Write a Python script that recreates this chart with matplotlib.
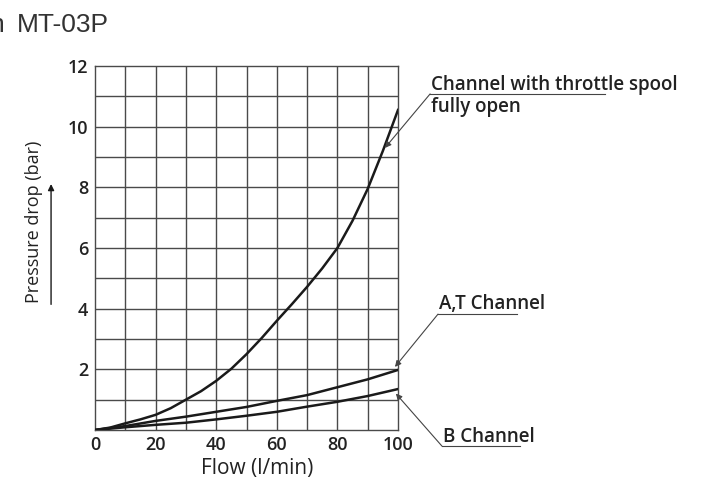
import numpy as np
import matplotlib.pyplot as plt

# flow (l/min) and pressure drop (bar)
flow = [0, 5, 10, 15, 20, 25, 30, 35, 40, 45, 50, 55, 60, 65, 70, 75, 80, 85, 90, 95, 100]
dp_throttle = [0, 0.08, 0.22, 0.35, 0.5, 0.72, 1.0, 1.28, 1.62, 2.02, 2.5, 3.03,
               3.6, 4.15, 4.72, 5.33, 6.0, 6.9, 7.95, 9.2, 10.55]

flow_lo = [0, 10, 20, 30, 40, 50, 60, 70, 80, 90, 100]
dp_at = [0, 0.13, 0.3, 0.44, 0.6, 0.76, 0.96, 1.15, 1.41, 1.67, 1.98]
dp_b = [0, 0.09, 0.17, 0.24, 0.35, 0.47, 0.6, 0.77, 0.93, 1.12, 1.35]

x_ticks = [0, 20, 40, 60, 80, 100]
y_ticks = [2, 4, 6, 8, 10, 12]

GRID = "#4a4a4a"
INK = "#1a1a1a"
FONT = ["Open Sans", "DejaVu Sans"]

fig = plt.figure(figsize=(7.05, 4.87), dpi=100)
ax = fig.add_axes([95 / 705, 1 - 430 / 487, 303 / 705, 364 / 487])

ax.set_xlim(0, 100)
ax.set_ylim(0, 12)
for v in range(10, 100, 10):
    ax.axvline(v, color=GRID, lw=1.0, zorder=1)
for v in range(1, 12):
    ax.axhline(v, color=GRID, lw=1.0, zorder=1)
for s in ax.spines.values():
    s.set_color(GRID)
    s.set_linewidth(1.0)

ax.plot(flow, dp_throttle, color=INK, lw=1.8, zorder=3, solid_joinstyle="round")
ax.plot(flow_lo, dp_at, color=INK, lw=1.8, zorder=3, solid_joinstyle="round")
ax.plot(flow_lo, dp_b, color=INK, lw=1.8, zorder=3, solid_joinstyle="round")

ax.set_xticks(x_ticks)
ax.set_yticks(y_ticks)
ax.tick_params(length=0, labelsize=13, colors="#222222")
ax.tick_params(axis="x", pad=4)
ax.tick_params(axis="y", pad=5)
for lab in ax.get_xticklabels() + ax.get_yticklabels():
    lab.set_family(FONT)
    lab.set_fontweight("semibold")

ax.set_xlabel("Flow (l/min)", fontsize=15, family=FONT, color="#222222")
ax.xaxis.set_label_coords(0.535, -0.078)
ax.set_ylabel("Pressure drop (bar)", fontsize=13, family=FONT, color="#222222")
ax.yaxis.set_label_coords(-0.17, 0.572)

# upward arrow beside the y label
ax.annotate("", xy=(-14.5, 8.2), xytext=(-14.5, 4.05), xycoords="data",
            annotation_clip=False,
            arrowprops=dict(arrowstyle="-|>", color=INK, lw=1.0, mutation_scale=9))

leader = dict(arrowstyle="-|>", color="#444444", lw=0.8, mutation_scale=9,
              shrinkA=0, shrinkB=0)


def callout(lines, tip, corner, underline_end, baselines):
    ax.plot([corner[0], underline_end], [corner[1], corner[1]], color="#444444",
            lw=0.8, clip_on=False)
    ax.annotate("", xy=tip, xytext=corner, annotation_clip=False, arrowprops=leader)
    for line, y in zip(lines, baselines):
        ax.text(corner[0] + 0.3, y, line, fontsize=13.5, fontweight="semibold",
                family=FONT, color="#222222", va="baseline", ha="left", clip_on=False)


callout(["Channel with throttle spool", "fully open"], (95.7, 9.3), (110.6, 11.08),
        168.3, [11.2, 10.48])
callout(["A,T Channel"], (99.0, 2.08), (113.2, 3.82), 139.3, [3.98])
callout(["B Channel"], (99.3, 1.2), (114.5, -0.53), 140.3, [-0.40])

title_font = ["Liberation Sans", "DejaVu Sans"]
fig.text(4 / 705, 1 - 32 / 487, "n", fontsize=19, family=title_font,
         color="#333333", va="baseline", ha="right")
fig.text(17 / 705, 1 - 32 / 487, "MT-03P", fontsize=19, family=title_font,
         color="#333333", va="baseline")

fig.savefig("out.png", dpi=100)
